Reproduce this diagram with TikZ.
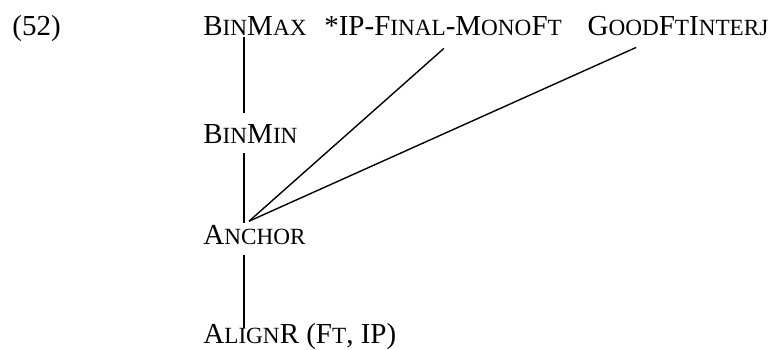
\documentclass[tikz,border=0pt]{standalone}
\usepackage{fontspec}
\setmainfont{Liberation Serif}
\usetikzlibrary{positioning}
\newcommand{\lsc}[1]{{\fontsize{11.6pt}{12pt}\selectfont #1}}
\tikzstyle{con} = [inner sep=0pt, text height=10pt, text depth=3pt, font=\fontsize{14.5pt}{17pt}\selectfont]
\tikzstyle{line} = [draw, line width=0.95pt]
\tikzstyle{slant} = [draw, line width=0.7pt]

\begin{document}
\begin{tikzpicture}
        \useasboundingbox (0,-174.5pt) rectangle (387pt,0);
        \node[con, anchor=base west] (exnum) at (6pt,-17.5pt) {(52)};
        \node[con, anchor=base west] (binmax) at (101.5pt,-17.5pt) {B\lsc{IN}M\lsc{AX}};
        \node[con, right=8.5pt of binmax] (ipfinal) {*IP-F\lsc{INAL}-M\lsc{ONO}F\lsc{T}};
        \node[con, right=12.5pt of ipfinal] (goodft) {G\lsc{OOD}F\lsc{T}I\lsc{NTERJ}};
        \node[con, below=41pt of binmax.south west, anchor=north west] (binmin) {B\lsc{IN}M\lsc{IN}};
        \node[con, below=37pt of binmin.south west, anchor=north west] (anch) {A\lsc{NCHOR}};
        \node[con, below=36pt of anch.south west, anchor=north west] (alignr) {A\lsc{LIGN}R (F\lsc{T}, IP)};
        \path[line] ([xshift=20.5pt,yshift=2pt]binmax.south west) -- ([xshift=20.5pt,yshift=5pt]binmin.north west);
        \path[line] ([xshift=20.5pt,yshift=-1.5pt]binmin.south west) -- ([xshift=20.5pt,yshift=0.5pt]anch.north west);
        \path[line] ([xshift=20.5pt,yshift=-2pt]anch.south west) -- ([xshift=20.5pt,yshift=-2.5pt]alignr.north west);
        \path[slant] ([xshift=23pt,yshift=1.5pt]anch.north west) -- ([xshift=60pt,yshift=-3.5pt]ipfinal.south west);
        \path[slant] ([xshift=23pt,yshift=1.5pt]anch.north west) -- ([xshift=24.5pt,yshift=-3pt]goodft.south west);
    \end{tikzpicture}
\end{document}
